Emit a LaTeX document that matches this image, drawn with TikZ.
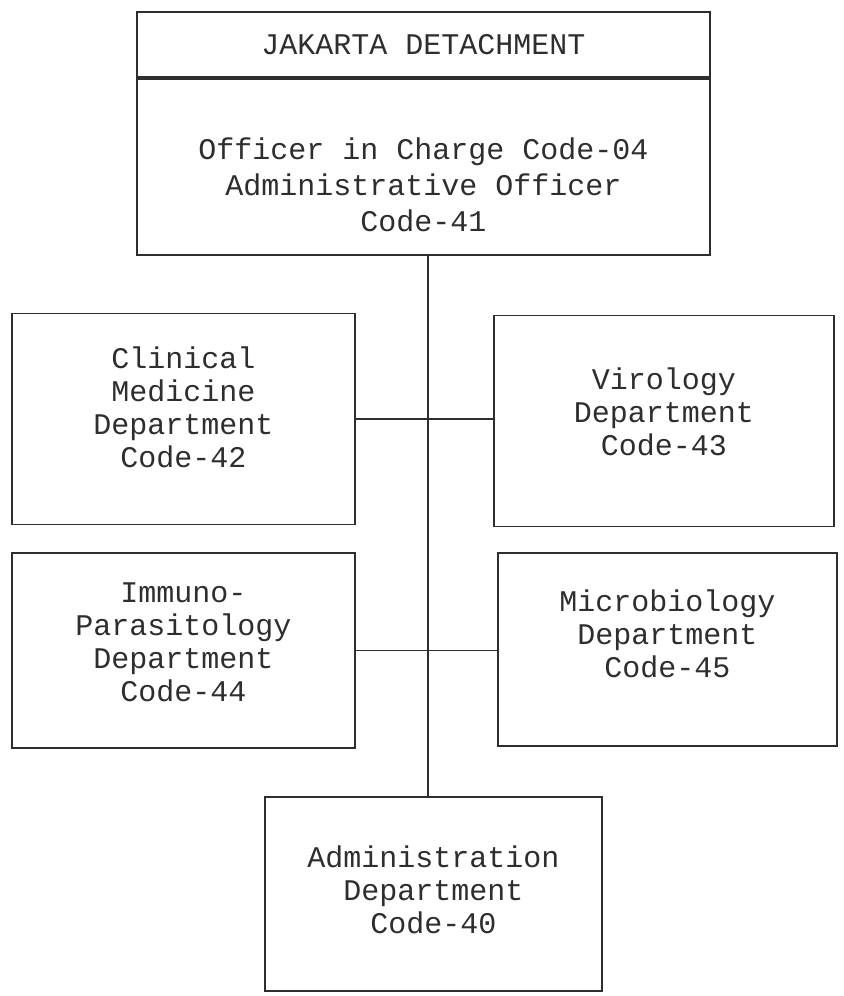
\documentclass[tikz,border=0pt]{standalone}
\usepackage{fontspec}
\setmonofont{Liberation Mono}
\usepackage{tikz}
\usetikzlibrary{positioning}

\definecolor{ink}{HTML}{2E2E2E}

\tikzset{
  unit/.style={draw=ink, line width=0.9pt, inner sep=0pt},
  tag/.style={text=ink, align=center, inner sep=0pt,
    font=\ttfamily\fontsize{15}{16.5}\selectfont},
  link/.style={draw=ink, line width=0.9pt},
  trunk/.style={draw=ink, line width=0.6pt}
}

\begin{document}
\begin{tikzpicture}[x=0.5pt, y=-0.5pt]
        \useasboundingbox (0,0) rectangle (844,996);
        % detachment head
        \node[unit, tag, minimum width=286.5pt, minimum height=32.5pt] (head) at (423.5,44.5) {JAKARTA DETACHMENT};
        \node[unit, minimum width=286.5pt, minimum height=88pt, below=0pt of head,
            label={[tag, font=\ttfamily\fontsize{15}{18}\selectfont, yshift=-9pt]center:{Officer in Charge Code-04\\ Administrative Officer\\ Code-41}}] (oic) {};
        % departments
        \node[unit, minimum width=171.5pt, minimum height=105.5pt,
            label={[tag, yshift=6pt]center:{Clinical\\Medicine\\Department\\Code-42}}] (clin) at (183.5,419) {};
        \node[unit, minimum width=170pt, minimum height=105.5pt,
            label={[tag, yshift=4.5pt]center:{Virology\\Department\\Code-43}}] (viro) at (664,421) {};
        \node[unit, minimum width=171.5pt, minimum height=97.5pt,
            label={[tag, yshift=4pt]center:{Immuno-\\Parasitology\\Department\\Code-44}}] (immu) at (183.5,650.5) {};
        \node[unit, minimum width=169.5pt, minimum height=96.5pt,
            label={[tag, yshift=8pt]center:{Microbiology\\Department\\Code-45}}] (micro) at (667.5,649.5) {};
        \node[unit, minimum width=168.5pt, minimum height=97pt,
            label={[tag, yshift=2pt]center:{Administration\\Department\\Code-40}}] (admin) at (433.5,894) {};
        % connectors
        \draw[trunk] (oic.south -| 428,0) -- (admin.north -| 428,0);
        \draw[link] (clin.east) -- (clin.east -| viro.west);
        \draw[link] (immu.east) -- (immu.east -| micro.west);
    \end{tikzpicture}
\end{document}
